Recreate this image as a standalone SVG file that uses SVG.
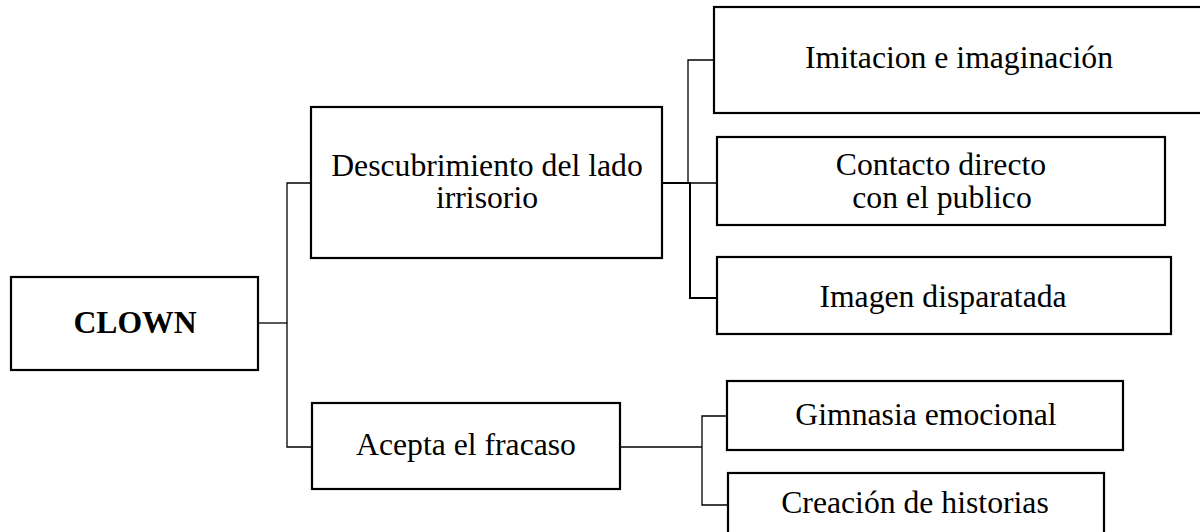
<svg xmlns="http://www.w3.org/2000/svg" width="1200" height="532" viewBox="0 0 1200 532">
<style>
.box{fill:#fff;stroke:#000;stroke-width:2.2}
.t{font-family:"Liberation Serif","Times New Roman",serif;font-size:31.7px;fill:#000;text-anchor:middle}
.b{font-weight:bold}
.c{fill:none;stroke:#000;stroke-width:1.3}
.ct{fill:none;stroke:#000;stroke-width:2}
</style>
<rect width="1200" height="532" fill="#fff"/>
<g id="connectors">
<polyline class="c" points="258,323 287,323"/>
<polyline class="c" points="311,183 287,183 287,447 312,447"/>
<polyline class="ct" points="662,183 690,183 690,298 717,298"/>
<polyline class="c" points="714,60 688,60 688,183 717,183"/>
<polyline class="c" points="620,447 702,447"/>
<polyline class="c" points="727,416 702,416 702,505 728,505"/>
</g>
<g id="clown"><rect class="box" x="11" y="277" width="247" height="93"/><text class="t b" x="135" y="333">CLOWN</text></g>
<g id="descubrimiento"><rect class="box" x="311" y="107" width="351" height="151"/><text class="t" x="487" y="176">Descubrimiento del lado</text><text class="t" x="487" y="208">irrisorio</text></g>
<g id="acepta"><rect class="box" x="312" y="403" width="308" height="86"/><text class="t" x="466" y="455">Acepta el fracaso</text></g>
<g id="imitacion"><rect class="box" x="714" y="7" width="500" height="106"/><text class="t" x="959" y="68">Imitacion e imaginación</text></g>
<g id="contacto"><rect class="box" x="717" y="137" width="448" height="88"/><text class="t" x="941" y="175">Contacto directo</text><text class="t" x="942" y="208">con el publico</text></g>
<g id="imagen"><rect class="box" x="717" y="257" width="454" height="77"/><text class="t" x="943" y="307">Imagen disparatada</text></g>
<g id="gimnasia"><rect class="box" x="727" y="381" width="396" height="69"/><text class="t" x="926" y="425">Gimnasia emocional</text></g>
<g id="creacion"><rect class="box" x="728" y="473" width="376" height="80"/><text class="t" x="915" y="513">Creación de historias</text></g>
</svg>
